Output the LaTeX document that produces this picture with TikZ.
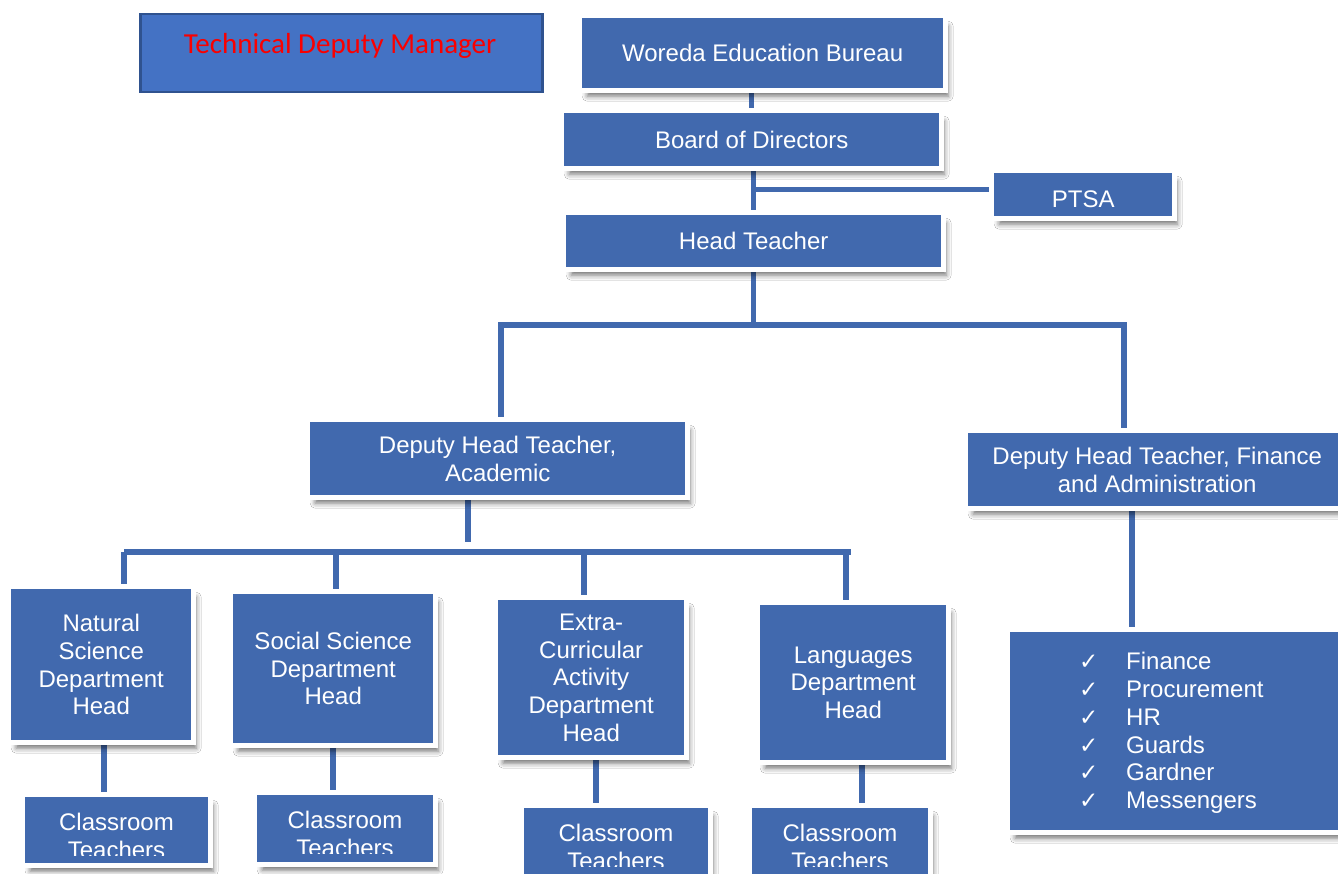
\documentclass[tikz,border=0pt]{standalone}
\usepackage{fontspec}
\setmainfont{Liberation Sans}
\newfontfamily\carlito{Carlito}
\newfontfamily\dejavu{DejaVu Sans}
\usetikzlibrary{backgrounds,shadows.blur}
\definecolor{orgblue}{RGB}{65,105,174}
\definecolor{techblue}{RGB}{68,114,196}
\definecolor{techedge}{RGB}{47,82,143}
\definecolor{techred}{RGB}{250,0,0}
\newcommand\checkitem{\makebox[47pt][l]{\dejavu\fontsize{23}{20}\selectfont ✓}}

\begin{document}
\begin{tikzpicture}[x=1pt,y=-1pt,
  orgbox/.style={rectangle, anchor=north west, inner sep=0pt, align=center,
    text=white, font=\fontsize{24}{27.7}\selectfont,
    blur shadow={shadow xshift=5pt, shadow yshift=-8pt, shadow blur radius=5pt, shadow opacity=55},
    preaction={draw=white, line width=10pt},
    fill=orgblue},
  boxtext/.style={inner sep=0pt, align=center, text=white, font=\fontsize{24}{27.7}\selectfont},
  conn/.style={draw=orgblue, line width=5.5pt}]

\useasboundingbox (0,0) rectangle (1338,874);

% title box
\node[rectangle, anchor=north west, fill=techblue, draw=techedge, line width=2.5pt,
      minimum width=402, minimum height=78] (tdm) at (139,13) {};
\node[inner sep=0pt, text=techred, font=\carlito\fontsize{29}{32}\selectfont] (tdmtext) at (340,46) {Technical Deputy Manager};

% upper hierarchy
\node[orgbox, minimum width=361, minimum height=70] (woreda) at (582,18) {Woreda Education Bureau};
\node[orgbox, minimum width=375, minimum height=53] (board) at (564,113) {Board of Directors};
\node[orgbox, minimum width=178, minimum height=43, text height=25pt, text depth=0pt] (ptsa) at (994,173) {PTSA};
\node[orgbox, minimum width=375, minimum height=52] (head) at (566,215) {Head Teacher};

% deputies
\node[orgbox, minimum width=375, minimum height=73] (dacad) at (310,422) {Deputy Head Teacher,\\Academic};
\node[orgbox, minimum width=378, minimum height=73] (dfin) at (968,433) {Deputy Head Teacher, Finance\\and Administration};

% department heads
\node[orgbox, minimum width=180, minimum height=151] (nat) at (11,589) {Natural\\Science\\Department\\Head};
\node[orgbox, minimum width=200, minimum height=149] (soc) at (233,594) {Social Science\\Department\\Head};
\node[orgbox, minimum width=186, minimum height=155] (extra) at (498,600) {Extra-\\Curricular\\Activity\\Department\\Head};
\node[orgbox, minimum width=186, minimum height=155] (lang) at (760,605) {Languages\\Department\\Head};

% finance and administration units
\node[orgbox, minimum width=336, minimum height=198] (finl) at (1010,632) {};
\node[anchor=west, inner sep=0pt, align=left, text=white, font=\fontsize{24}{27.7}\selectfont] (finlist) at (1079,733)
  {\checkitem Finance\\\checkitem Procurement\\\checkitem HR\\\checkitem Guards\\\checkitem Gardner\\\checkitem Messengers};

% classroom teachers
\node[orgbox, minimum width=183, minimum height=66] (ct1) at (25,797) {};
\node[orgbox, minimum width=176, minimum height=67] (ct2) at (257,795) {};
\node[orgbox, minimum width=184, minimum height=80] (ct3) at (524,808) {};
\node[orgbox, minimum width=176, minimum height=80] (ct4) at (752,808) {};
\begin{scope}
  \clip (25,797) rectangle (208,855);
  \node[boxtext] (ct1text) at (116.5,836) {Classroom\\Teachers};
\end{scope}
\begin{scope}
  \clip (257,795) rectangle (433,853);
  \node[boxtext] (ct2text) at (345,834) {Classroom\\Teachers};
\end{scope}
\begin{scope}
  \clip (524,808) rectangle (708,866);
  \node[boxtext] (ct3text) at (616,847) {Classroom\\Teachers};
\end{scope}
\begin{scope}
  \clip (752,808) rectangle (928,866);
  \node[boxtext] (ct4text) at (840,847) {Classroom\\Teachers};
\end{scope}

% connectors
\coordinate (barL) at (501,325);
\coordinate (barR) at (1124,325);
\coordinate (acadstem) at (468,542);
\coordinate (deptL) at (124,552);
\coordinate (deptR) at (851,552);
\coordinate (dsoc) at (336,552);
\coordinate (dextra) at (584,552);
\coordinate (dlang) at (846,552);
\coordinate (fstem) at (1132,0);
\coordinate (c1) at (104,0);
\coordinate (c2) at (333,0);
\coordinate (c3) at (596,0);
\coordinate (c4) at (862,0);

\begin{scope}[on background layer]
  \fill[white] (0,0) rectangle (1338,874);
  \draw[conn] (board.north) -- (board.north |- woreda.south);
  \draw[conn] (head.north) -- (head.north |- board.south);
  \draw[conn] ([yshift=5pt]ptsa.west) -- ([yshift=5pt]ptsa.west -| head.north);
  \draw[conn] (head.south) -- (head.south |- barL);
  \draw[conn] (dacad.north -| barL) -- (barL) -- (barR) -- (dfin.north -| barR);
  \draw[conn] (dacad.south -| acadstem) -- (acadstem);
  \draw[conn] (deptL) -- (deptR);
  \draw[conn] (nat.north -| deptL) -- (deptL);
  \draw[conn] (soc.north -| dsoc) -- (dsoc);
  \draw[conn] (extra.north -| dextra) -- (dextra);
  \draw[conn] (lang.north -| dlang) -- (dlang);
  \draw[conn] (dfin.south -| fstem) -- (finl.north -| fstem);
  \draw[conn] (nat.south -| c1) -- (ct1.north -| c1);
  \draw[conn] (soc.south -| c2) -- (ct2.north -| c2);
  \draw[conn] (extra.south -| c3) -- (ct3.north -| c3);
  \draw[conn] (lang.south -| c4) -- (ct4.north -| c4);
\end{scope}
\end{tikzpicture}
\end{document}
